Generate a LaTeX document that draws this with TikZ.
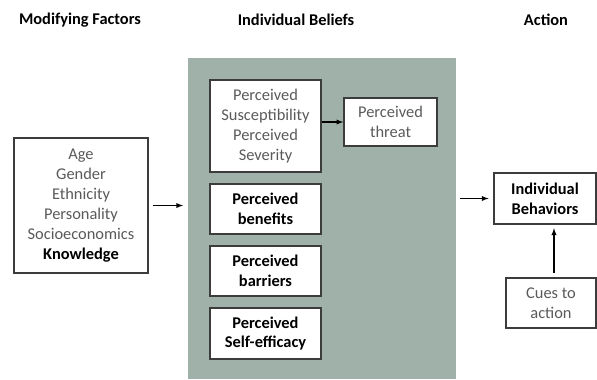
\documentclass[tikz,border=0pt]{standalone}
\usepackage{fontspec}
\setmainfont{Carlito}
\definecolor{beliefgray}{RGB}{160,177,170}
\definecolor{boxline}{RGB}{60,60,60}
\definecolor{softtext}{RGB}{90,90,90}
\begin{document}
\begin{tikzpicture}[x=0.03cm, y=-0.03cm,
  every node/.style={font=\fontsize{14}{17}\selectfont, align=center, inner sep=0pt},
  box/.style={draw=boxline, line width=1.2pt, fill=white},
  heading/.style={font=\fontsize{14}{17}\selectfont\bfseries}]
\useasboundingbox (0,0) rectangle (597,379);
\node[heading] (hf) at (80,20) {Modifying Factors};
\node[heading] (hb) at (296,20) {Individual Beliefs};
\node[heading] (ha) at (546,20) {Action};
\node[fill=beliefgray, minimum width=8.04cm, minimum height=9.63cm] (beliefs) at (322,218.5) {};
\node[box, minimum width=4.02cm, minimum height=4.05cm, text=softtext] (factors) at (81,205.5)
  {Age\\Gender\\Ethnicity\\Personality\\Socioeconomics\\\textcolor{black}{\textbf{Knowledge}}};
\node[box, minimum width=3.33cm, minimum height=2.76cm, text=softtext] (sus) at (265.5,126)
  {Perceived\\Susceptibility\\Perceived\\Severity};
\node[box, minimum width=3.33cm, minimum height=1.5cm, font=\fontsize{14}{17}\selectfont\bfseries] (ben) at (265.5,209) {Perceived\\benefits};
\node[box, minimum width=3.33cm, minimum height=1.5cm, font=\fontsize{14}{17}\selectfont\bfseries] (bar) at (265.5,271) {Perceived\\barriers};
\node[box, minimum width=3.33cm, minimum height=1.53cm, font=\fontsize{14}{17}\selectfont\bfseries] (eff) at (265.5,333.5) {Perceived\\Self-efficacy};
\node[box, minimum width=2.79cm, minimum height=1.44cm, text=softtext] (threat) at (390.5,122) {Perceived\\threat};
\node[box, minimum width=3.06cm, minimum height=1.53cm, font=\fontsize{14}{17}\selectfont\bfseries] (behav) at (545,198.5) {Individual\\Behaviors};
\node[box, minimum width=2.7cm, minimum height=1.5cm, text=softtext] (cues) at (551,303) {Cues to\\action};

\draw[->, >=latex, line width=1pt, shorten <=4pt, shorten >=4pt] (factors.east) -- (factors.east -| beliefs.west);
\draw[->, >=latex, line width=1pt] (sus.east |- threat) -- (threat.west);
\draw[->, >=latex, line width=1pt, shorten <=3pt, shorten >=4pt] (beliefs.east |- behav) -- (behav.west);
\draw[->, >=latex, line width=1pt, shorten <=4pt, shorten >=3pt] (cues.north -| 554,0) -- (behav.south -| 554,0);
\end{tikzpicture}
\end{document}
